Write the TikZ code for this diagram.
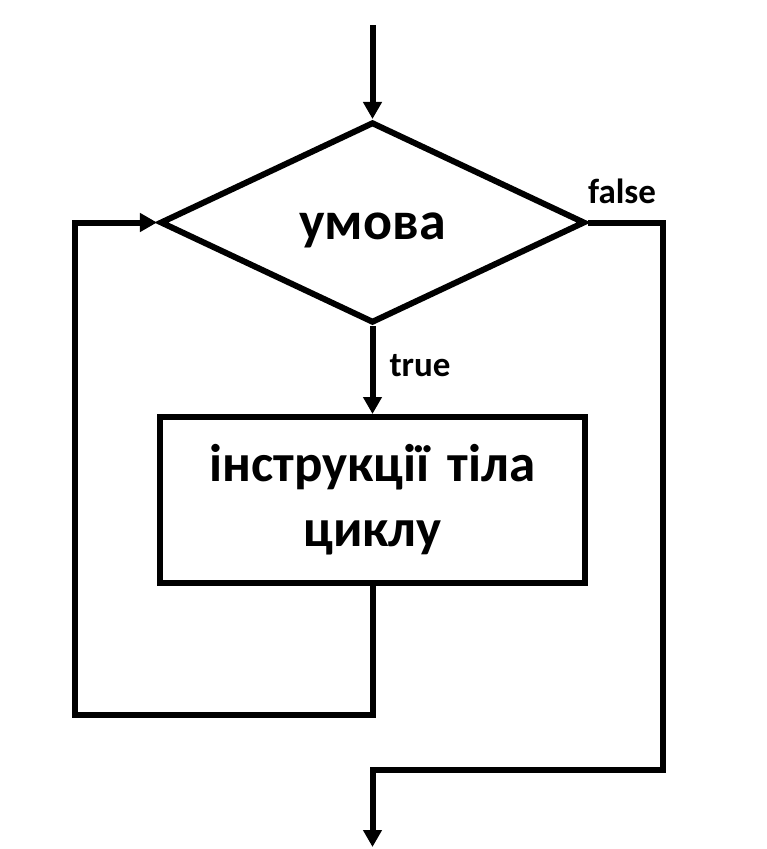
\documentclass[tikz,border=0pt]{standalone}
\usepackage{fontspec}
\setmainfont{Carlito}
\usetikzlibrary{arrows.meta, shapes.geometric}
\tikzset{
  every picture/.style={font=\bfseries, line width=6bp},
  cond/.style={diamond, draw, inner sep=0pt, minimum width=425bp, minimum height=201bp, text height=33bp, text depth=0pt, font=\bfseries\fontsize{54bp}{65bp}\selectfont},
  block/.style={rectangle, draw, inner sep=0pt, minimum width=425bp, minimum height=166bp, text width=420bp, align=center, font=\bfseries\fontsize{53bp}{65bp}\selectfont},
  arrow/.style={-{Triangle[length=17bp, width=18bp]}},
  note/.style={font=\bfseries\fontsize{35bp}{40bp}\selectfont, inner sep=0pt},
}
\begin{document}
\begin{tikzpicture}[x=1bp, y=-1bp]
  \useasboundingbox (0,0) rectangle (767,849);
  % decision and loop body
  \node[cond] (test) at (372.5,222.5) {умова};
  \node[block] (body) at (372.5,500) {інструкції тіла\\циклу};
  % free ends and corners
  \coordinate (in) at (372.5,25);
  \coordinate (back) at (75,715);
  \coordinate (exit) at (663,770);
  \coordinate (out) at (372.5,847);
  \draw[arrow] (in) -- (test.north);
  \draw[arrow] (test.south) -- node[note, right=14bp, pos=0.45] (yes) {true} (body.north);
  \draw[arrow] (body.south) |- (back) |- (test.west);
  \draw[arrow] (test.east) -| (exit) -| (out);
  \node[note, anchor=base] (no) at (622,203) {false};
\end{tikzpicture}
\end{document}
